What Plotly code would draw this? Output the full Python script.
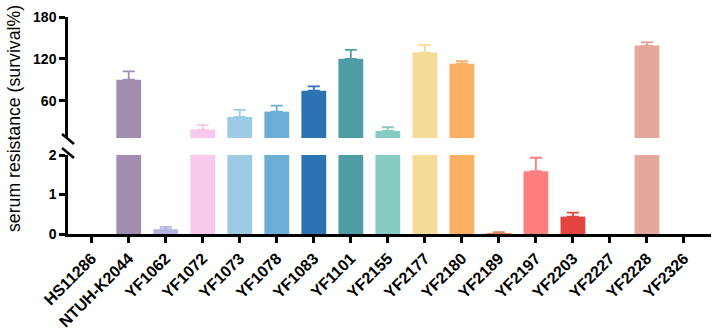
import plotly.graph_objects as go

strains = ["HS11286", "NTUH-K2044", "YF1062", "YF1072", "YF1073", "YF1078", "YF1083",
           "YF1101", "YF2155", "YF2177", "YF2180", "YF2189", "YF2197", "YF2203",
           "YF2227", "YF2228", "YF2326"]
survival = [0, 90, 0.12, 18.6, 36.7, 44.3, 74.3, 120, 16.7, 129, 113, 0.02, 1.59, 0.44, 0, 139, 0]
sd = [0, 12, 0.06, 6.4, 10, 8.6, 6.1, 13, 5.2, 11, 3.7, 0.03, 0.34, 0.1, 0, 4.8, 0]
colors = ["#A28CAF", "#A28CAF", "#B5B4DE", "#F8C9EC", "#9CCBE3", "#6BAED6", "#2B73B3",
          "#4E9DA4", "#87CCC3", "#F4DC97", "#FDB063", "#E8845A", "#FF7F7F", "#E6443F",
          "#E4A79B", "#E4A79B", "#E4A79B"]
y_low_ticks = [0, 1, 2]
y_high_ticks = [60, 120, 180]
LOW_MAX = 2
HIGH_MIN = 6.5
HIGH_MAX = 180

W, H = 715, 334
ML, MR, MT, MB = 68, 4, 17, 100
PW, PH = W - ML - MR, H - MT - MB

def px_x(p):
    return (p - ML) / PW

def px_y(p):
    return (H - MB - p) / PH

low_dom = [0, px_y(155)]
high_dom = [px_y(138), 1.0]

fig = go.Figure()
for i, s in enumerate(strains):
    v, e, c = survival[i], sd[i], colors[i]
    # lower segment
    fig.add_trace(go.Bar(
        x=[s], y=[v], xaxis="x", yaxis="y", width=0.67,
        marker=dict(color=c, line=dict(width=0)),
        error_y=dict(type="data", symmetric=False, array=[e if v < LOW_MAX else 0],
                     arrayminus=[0], color=c, thickness=1.8, width=6,
                     visible=bool(v < LOW_MAX and e > 0)),
        showlegend=False, hoverinfo="skip"))
    # upper segment
    fig.add_trace(go.Bar(
        x=[s], y=[v], xaxis="x2", yaxis="y2", width=0.67,
        marker=dict(color=c, line=dict(width=0)),
        error_y=dict(type="data", symmetric=False, array=[e if v > HIGH_MIN else 0],
                     arrayminus=[0], color=c, thickness=1.8, width=6,
                     visible=bool(v > HIGH_MIN and e > 0)),
        showlegend=False, hoverinfo="skip"))

tickfont = dict(family="Liberation Sans, Arial", size=14, color="black", weight="bold")
axis_common = dict(showline=True, linecolor="black", linewidth=2.5, ticks="outside",
                   ticklen=6, tickwidth=2.5, tickcolor="black", showgrid=False, zeroline=False)

fig.update_layout(
    width=W, height=H,
    margin=dict(l=ML, r=MR, t=MT, b=MB),
    paper_bgcolor="white", plot_bgcolor="white",
    barmode="overlay",
    xaxis=dict(anchor="y", domain=[0, 1], type="category", categoryorder="array",
               categoryarray=strains, range=[-0.64, 16.73], tickangle=-45,
               tickfont=dict(family="Liberation Sans, Arial", size=16, color="black", weight="bold"),
               **axis_common),
    xaxis2=dict(anchor="y2", domain=[0, 1], type="category", categoryorder="array",
                categoryarray=strains, range=[-0.64, 16.73], matches="x", visible=False),
    yaxis=dict(anchor="x", domain=low_dom, range=[0, LOW_MAX], tickvals=y_low_ticks,
               tickfont=tickfont, **axis_common),
    yaxis2=dict(anchor="x2", domain=high_dom, range=[HIGH_MIN, HIGH_MAX], tickvals=y_high_ticks,
                tickfont=tickfont, **axis_common),
)

fig.add_annotation(text="serum resistance (survival%)", xref="paper", yref="paper",
                   x=px_x(14), y=px_y(119), textangle=-90, showarrow=False,
                   font=dict(family="Liberation Sans, Arial", size=17.7, color="black"),
                   xanchor="center", yanchor="middle")

# axis break marks
for cy in (139, 153):
    fig.add_shape(type="line", xref="paper", yref="paper",
                  x0=px_x(62), y0=px_y(cy - 5), x1=px_x(74), y1=px_y(cy + 5),
                  line=dict(color="black", width=2.5))

fig.write_html("out.html")
